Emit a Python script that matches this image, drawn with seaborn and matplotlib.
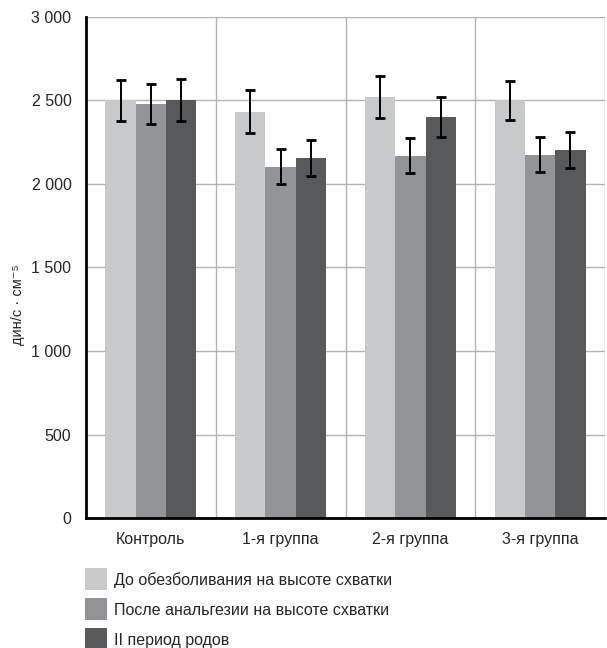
import numpy as np
import pandas as pd
import matplotlib
matplotlib.use("Agg")
import matplotlib.pyplot as plt
from matplotlib.patches import Patch
from matplotlib.ticker import FixedLocator
import seaborn as sns

# data
groups = ["Контроль", "1-я группа", "2-я группа", "3-я группа"]
series = ["До обезболивания на высоте схватки",
          "После анальгезии на высоте схватки",
          "II период родов"]
before = [2500, 2432, 2520, 2500]
after = [2477, 2104, 2169, 2176]
second = [2502, 2156, 2403, 2204]
err_before = [120, 128, 127, 119]
err_after = [120, 105, 106, 107]
err_second = [125, 107, 120, 110]
yticks = [0, 500, 1000, 1500, 2000, 2500, 3000]
ytick_labels = ["0", "500", "1 000", "1 500", "2 000", "2 500", "3 000"]
colors = ["#c8c9cb", "#939497", "#58595b"]

df = pd.DataFrame({
    "group": groups * 3,
    "series": [s for s in series for _ in groups],
    "value": before + after + second,
    "err": err_before + err_after + err_second,
})

sns.set_style("white")
plt.rcParams["font.family"] = ["Liberation Sans", "DejaVu Sans"]

fig = plt.figure(figsize=(6.07, 6.48), dpi=100)
ax = fig.add_axes([0.1417, 0.2006, 0.855, 0.7732])

sns.barplot(data=df, x="group", y="value", hue="series", palette=colors,
            width=0.7, gap=0, saturation=1, errorbar=None, legend=False,
            linewidth=0, edgecolor="none", ax=ax, zorder=2)

# error bars at the centre of each bar
for bar, (_, row) in zip(ax.patches, df.iterrows()):
    cx = bar.get_x() + bar.get_width() / 2
    ax.errorbar(cx, row["value"], yerr=row["err"], fmt="none", ecolor="black",
                elinewidth=1.4, capsize=3.8, capthick=2, zorder=3)

ax.set_xlim(-0.5, 3.5)
ax.set_ylim(0, 3000)
ax.yaxis.set_major_locator(FixedLocator(yticks))
ax.set_yticklabels(ytick_labels)
ax.xaxis.set_minor_locator(FixedLocator([0.5, 1.5, 2.5, 3.5]))

ax.grid(True, axis="y", which="major", color="#b3b3b3", lw=1, zorder=0)
ax.grid(True, axis="x", which="minor", color="#b3b3b3", lw=1, zorder=0)
ax.grid(False, axis="x", which="major")
ax.set_axisbelow(True)

for s in ["top", "right"]:
    ax.spines[s].set_visible(False)
for s in ["left", "bottom"]:
    ax.spines[s].set_color("black")
    ax.spines[s].set_linewidth(2)

ax.tick_params(axis="y", direction="in", length=5, width=1.5, color="black",
               labelsize=11.5, pad=10.5)
ax.tick_params(axis="x", which="major", length=0, labelsize=11.5, pad=10)
ax.tick_params(axis="x", which="minor", direction="in", length=4, width=1.5,
               color="black")

ax.set_xlabel("")
ax.set_ylabel("дин/с · см⁻⁵", fontsize=10.5)
ax.yaxis.set_label_coords(-0.118, 0.425)

handles = [Patch(facecolor=c, edgecolor="none") for c in colors]
fig.legend(handles, series, loc="upper left", bbox_to_anchor=(0.14, 0.123),
           frameon=False, fontsize=11.5, handlelength=1.4, handleheight=1.75,
           handletextpad=0.44, labelspacing=0.5, borderpad=0, borderaxespad=0)

fig.savefig("out.png", dpi=100)
